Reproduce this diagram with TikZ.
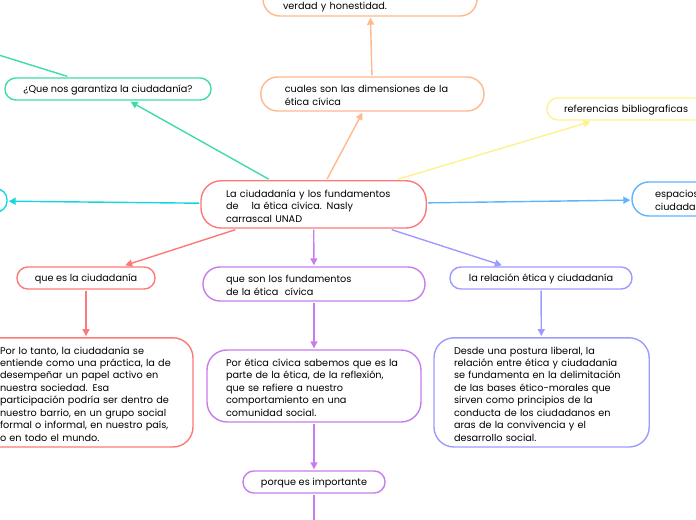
\documentclass[tikz,border=0pt]{standalone}
\usepackage{fontspec}
\setmainfont{Poppins}
\usepackage{xcolor}
\usetikzlibrary{arrows.meta}
\definecolor{rojo}{HTML}{FC7A7A}
\definecolor{morado}{HTML}{C77DEB}
\definecolor{violeta}{HTML}{9E9BFF}
\definecolor{naranja}{HTML}{FFB98C}
\definecolor{verde}{HTML}{3FDDA6}
\definecolor{amarillo}{HTML}{FDF28F}
\definecolor{cian}{HTML}{16D5E0}
\definecolor{azul}{HTML}{5DB5FF}
\tikzset{
  linea/.style={line width=1pt},
  flecha/.style={line width=1pt, -{Triangle[length=5pt,width=5pt]}},
  caja/.style={draw, line width=1pt, inner sep=0pt, outer sep=1.2pt, execute at begin node={\rule[-2.3pt]{0pt}{9.8pt}}},
  uno/.style={caja, rounded corners=0.27cm, minimum height=0.55cm, align=center},
  dos/.style={caja, rounded corners=0.42cm, minimum height=0.85cm, align=left},
  tres/.style={caja, rounded corners=0.5cm, align=left}
}
\begin{document}
\begin{tikzpicture}[font=\fontsize{6.9}{8.86}\selectfont]
        \useasboundingbox (0,0) rectangle (17.4,-13);

        % Centro
        \node (main) at (7.84,-5.11) [tres, draw=rojo, minimum width=5.63cm, minimum height=1.18cm, text width=4.38cm] {La ciudadanía y los fundamentos\\de \quad la ética cívica. Nasly\\carrascal UNAD};

        % Arriba
        \node (verdad) at (9.25,0.025) [dos, draw=naranja, minimum width=5.35cm, text width=4.35cm] {\\verdad y honestidad.};
        \node (cuales) at (9.31,-2.35) [dos, draw=naranja, minimum width=5.58cm, text width=4.38cm] {cuales son las dimensiones de la\\ética cívica};
        \node (garantiza) at (2.7,-2.225) [uno, draw=verde, minimum width=5.15cm] {¿Que nos garantiza la ciudadanía?};
        \node (referencias) at (15.825,-2.725) [uno, align=left, draw=amarillo, minimum width=4.3cm, text width=3.45cm] {referencias bibliograficas};
        \coordinate (garantia) at (-0.5,-1.23);

        % Lados
        \node (izquierda) at (-1.75,-5.01) [uno, draw=cian, minimum width=3.85cm, minimum height=0.58cm] {};
        \node (espacios) at (17.8,-4.975) [dos, draw=azul, minimum width=4cm, text width=2.85cm] {espacios\\ciudada};

        % Abajo
        \node (ciudadania) at (2.15,-6.95) [uno, draw=rojo, minimum width=3.45cm] {que es la ciudadanía};
        \node (fundamentos) at (7.85,-7.1) [dos, draw=morado, minimum width=5.55cm, text width=4.4cm] {que son los fundamentos\\de la ética \ cívica};
        \node (relacion) at (13.525,-6.95) [uno, draw=violeta, minimum width=4.55cm] {la relación ética y ciudadanía};
        \node (practica) at (2.15,-9.81) [tres, draw=rojo, minimum width=5.35cm, minimum height=2.73cm, text width=4.3cm] {Por lo tanto, la ciudadanía se\\entiende como una práctica, la de\\desempeñar un papel activo en\\nuestra sociedad. Esa\\participación podría ser dentro de\\nuestro barrio, en un grupo social\\formal o informal, en nuestro país,\\o en todo el mundo.};
        \node (etica) at (7.85,-9.65) [tres, draw=morado, minimum width=5.35cm, minimum height=1.8cm, text width=4.4cm] {Por ética cívica sabemos que es la\\parte de la ética, de la reflexión,\\que se refiere a nuestro\\comportamiento en una\\comunidad social.};
        \node (postura) at (13.54,-9.81) [tres, draw=violeta, minimum width=5.38cm, minimum height=2.73cm, text width=4.38cm] {Desde una postura liberal, la\\relación entre ética y ciudadanía\\se fundamenta en la delimitación\\de las bases ético-morales que\\sirven como principios de la\\conducta de los ciudadanos en\\aras de la convivencia y el\\desarrollo social.};
        \node (importante) at (7.85,-12.05) [uno, draw=morado, minimum width=3.55cm] {porque es importante};
        \coordinate (abajo) at (7.85,-13.3);

        % Collegamenti
        \draw[flecha, naranja] (main) -- (cuales);
        \draw[flecha, naranja] (cuales) -- (verdad);
        \draw[flecha, verde] (main) -- (garantiza);
        \draw[linea, verde] (garantiza) -- (garantia);
        \draw[flecha, amarillo] (main) -- (referencias);
        \draw[flecha, cian] (main) -- (izquierda);
        \draw[flecha, azul] (main) -- (espacios);
        \draw[flecha, rojo] (main) -- (ciudadania);
        \draw[flecha, morado] (main) -- (fundamentos);
        \draw[flecha, violeta] (main) -- (relacion);
        \draw[flecha, rojo] (ciudadania) -- (practica);
        \draw[flecha, morado] (fundamentos) -- (etica);
        \draw[flecha, morado] (etica) -- (importante);
        \draw[flecha, violeta] (relacion) -- (postura);
        \draw[linea, morado] (importante) -- (abajo);
\end{tikzpicture}
\end{document}
